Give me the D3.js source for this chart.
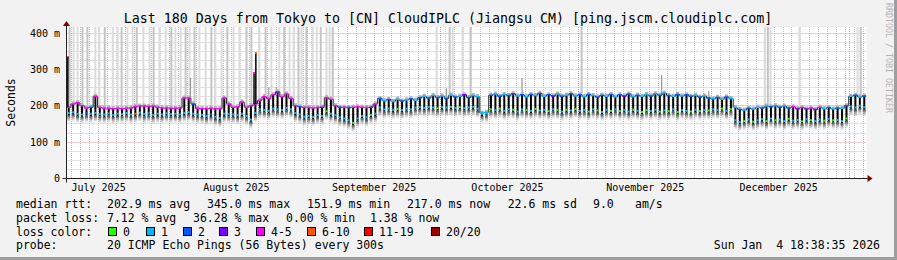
<!DOCTYPE html>
<html>
<head>
<meta charset="utf-8">
<title>Smokeping - Tokyo to CloudIPLC Jiangsu CM</title>
<style>
  body { margin: 0; background: #f2f2f2; }
  svg text { font-family: "DejaVu Sans Mono", monospace; white-space: pre; }
</style>
</head>
<body>
<div id="chart"></div>
<script src="https://d3js.org/d3.v7.min.js"></script>
<script>
// ---- data ----
var title = "Last 180 Days from Tokyo to [CN] CloudIPLC (Jiangsu CM) [ping.jscm.cloudiplc.com]";
var yTicks = [0, 100, 200, 300, 400];
var yTickLabels = ["0", "100 m", "200 m", "300 m", "400 m"];
var months = ["2025-07-01", "2025-08-01", "2025-09-01", "2025-10-01", "2025-11-01", "2025-12-01", "2026-01-01"];
var monthLabels = ["July 2025", "August 2025", "September 2025", "October 2025", "November 2025", "December 2025"];

// daily median level (ms), one value per day starting Jul 8 18:38
var base = [
  196,205,208,200,194,196,226,195,193,193,
  192,193,192,193,194,198,199,199,198,199,
  196,194,194,193,193,194,221,221,205,193,
  192,192,193,192,192,221,205,196,197,210,
  196,200,205,215,225,220,230,238,225,232,
  220,200,197,195,195,194,195,196,222,218,
  200,196,196,195,196,197,196,195,196,205,
  220,214,217,212,218,213,216,219,215,222,
  226,221,228,223,227,220,229,224,226,230,
  223,228,225,180,182,229,232,226,231,228,
  233,227,230,225,231,228,234,226,230,227,
  232,226,229,233,227,230,225,231,228,224,
  229,226,231,224,230,227,232,225,229,226,
  231,227,233,229,235,228,226,231,227,230,
  226,229,224,227,221,219,223,218,224,220,
  195,190,188,193,191,196,194,199,197,200,
  196,199,194,197,192,195,191,194,190,196,
  192,195,191,194,193,200,226,229,224,227
];
// daily low of the median (ms)
var dip = [
  180,182,178,176,179,178,180,177,176,179,
  175,178,177,180,176,178,181,177,179,175,
  178,176,179,177,178,176,180,182,178,176,
  175,172,176,170,166,178,177,176,174,178,
  172,162,180,190,188,186,192,190,188,194,
  190,180,176,170,172,169,174,172,185,178,
  174,168,165,160,153,165,172,168,175,178,
  195,190,192,189,191,188,192,190,195,196,
  194,197,195,193,196,195,197,194,196,193,
  195,197,192,178,179,190,188,192,186,190,
  189,184,190,188,186,191,187,189,185,190,
  188,184,189,187,191,186,188,184,190,187,
  183,189,186,190,185,188,184,189,186,183,
  188,185,189,184,187,185,190,183,188,186,
  184,189,185,188,187,190,188,192,186,190,
  160,155,158,162,156,160,163,158,165,160,
  162,158,164,159,161,157,163,160,158,162,
  159,164,160,161,158,165,198,195,200,196
];
// loss class per day (index into lossColors) for the level and for the low
var baseLoss = [
  "4444424444","4444444444","4444444424","4444444444","4444444344",
  "4424444344","4242444434",
  "2121121212","1212121213","2111121212",
  "2121212123","1212121212","2121232121","1212121212","2121212121",
  "1212112121","2124343434","1212121212"
].join("");
var dipLoss = [
  "1111211111","1111151111","1111111111","1121111111","1111111111",
  "1111111101","1111011101",
  "1111011111","1110111101","1111101011",
  "0110101101","0101011010","1101011010","0110101011","0101011010",
  "1101011010","1101101011","0101101111"
].join("");

// single median spikes: day offset, value (ms), loss class
var spikeDay = [0.3, 42.2, 42.6];
var spikeMs = [333, 290, 345];
var spikeLoss = [7, 4, 5];

// thin grey smoke peaks: day offset, value (ms)
var smokeDay = [27.9, 45.5, 47.2, 85.5, 102.5, 133.9, 144.5];
var smokeMs = [276, 250, 252, 248, 276, 284, 240];

// smoke that runs off the top of the graph: day offset, darkness
var stripeDay = [0.7, 1.6, 2.5, 3.6, 4.7, 6.5, 7.4, 8.6, 10.4, 11.5, 12.4, 13.7, 14.9, 15.8,
  17.3, 18.7, 19.6, 20.9, 22.3, 23.6, 24.5, 25.7, 26.8, 27.7, 28.8, 29.9, 31.3, 32.6, 33.5,
  34.9, 36.2, 37.6, 38.9, 40.5, 41.6, 43.4, 44.8, 46.1, 47.9, 49.0, 50.2, 51.1, 52.2, 52.9,
  54.0, 55.4, 56.3, 57.2, 58.5, 59.2, 59.9, 83.3, 86.2, 86.9, 89.1, 90.9, 115.9, 157.1,
  157.8, 158.4, 164.9, 178.0, 178.7];
var stripeDark = [1, 0, 0, 1, 1, 0, 0, 1, 0, 0, 1, 0, 0, 1,
  0, 0, 1, 0, 0, 1, 0, 0, 1, 0, 1, 0, 0, 1, 0,
  0, 1, 0, 0, 1, 1, 0, 1, 0, 0, 1, 0, 0, 1, 0,
  1, 0, 0, 1, 0, 0, 1, 0, 1, 0, 0, 1, 1, 0,
  1, 0, 0, 0, 1];

var lossLabels = ["0", "1", "2", "3", "4-5", "6-10", "11-19", "20/20"];
var lossColors = ["#26ff00", "#00b8ff", "#0059ff", "#7e00ff", "#ff00ff", "#ff5500", "#ff0000", "#a10000"];

var statRows = [
  ["median rtt:", "202.9 ms avg", "345.0 ms max", "151.9 ms min", "217.0 ms now", "22.6 ms sd", "9.0", "am/s"],
  ["packet loss:", "7.12 % avg", "36.28 % max", "0.00 % min", "1.38 % now"]
];
var probeText = ["probe:", "20 ICMP Echo Pings (56 Bytes) every 300s"];
var stamp = "Sun Jan  4 18:38:35 2026";

// ---- layout ----
var W = 897, H = 260;
var pLeft = 66.5, pRight = 866.5, pTop = 27, pBottom = 178.5;
var DAY = 86400000;
var t0 = Date.UTC(2025, 6, 8, 18, 38, 35);
var t1 = Date.UTC(2026, 0, 4, 18, 38, 35);

var x = d3.scaleUtc().domain([t0, t1]).range([pLeft, pRight]);
var y = d3.scaleLinear().domain([0, 416.5]).range([pBottom, pTop]);
var dx = function(d) { return x(t0 + d * DAY); };
var crisp = function(v) { return Math.round(v - 0.5) + 0.5; };

var svg = d3.select('#chart').append('svg')
  .attr('width', W).attr('height', H);

svg.append('rect').attr('width', W).attr('height', H).attr('fill', '#f2f2f2');
svg.append('rect').attr('x', W - 3).attr('y', 0).attr('width', 3).attr('height', H).attr('fill', '#9e9e9e');
svg.append('rect').attr('x', 0).attr('y', H - 3).attr('width', W).attr('height', 3).attr('fill', '#9e9e9e');

svg.append('rect')
  .attr('x', pLeft).attr('y', pTop)
  .attr('width', pRight - pLeft).attr('height', pBottom - pTop)
  .attr('fill', '#fff');

var defs = svg.append('defs');
var grad = defs.append('linearGradient').attr('id', 'tail')
  .attr('x1', 0).attr('y1', 0).attr('x2', 0).attr('y2', 1);
grad.append('stop').attr('offset', 0).attr('stop-color', '#333').attr('stop-opacity', 0.95);
grad.append('stop').attr('offset', 1).attr('stop-color', '#bbb').attr('stop-opacity', 0);
defs.append('clipPath').attr('id', 'plot').append('rect')
  .attr('x', pLeft).attr('y', pTop).attr('width', pRight - pLeft).attr('height', pBottom - pTop);

// ---- grid ----
var grid = svg.append('g');
var minorY = d3.range(25, 416, 25).filter(function(v) { return v % 100 !== 0; });
grid.selectAll('line.hmin').data(minorY).join('line')
  .attr('x1', pLeft).attr('x2', pRight)
  .attr('y1', function(v) { return crisp(y(v)); }).attr('y2', function(v) { return crisp(y(v)); })
  .attr('stroke', '#c4c4c4').attr('stroke-dasharray', '1,1');

var minorX = [];
for (var t = Math.ceil((t0 - DAY) / (2 * DAY)) * 2 * DAY + DAY; t <= t1; t += 2 * DAY) {
  if (t >= t0) minorX.push(t);
}
grid.selectAll('line.vmin').data(minorX).join('line')
  .attr('x1', function(t) { return crisp(x(t)); }).attr('x2', function(t) { return crisp(x(t)); })
  .attr('y1', pTop).attr('y2', pBottom)
  .attr('stroke', '#c4c4c4').attr('stroke-dasharray', '1,1');

grid.selectAll('line.hmaj').data(yTicks.slice(1)).join('line')
  .attr('x1', pLeft).attr('x2', pRight)
  .attr('y1', function(v) { return crisp(y(v)); }).attr('y2', function(v) { return crisp(y(v)); })
  .attr('stroke', '#f29494').attr('stroke-dasharray', '1,1');

var monthTimes = months.map(function(s) { return Date.parse(s + "T00:00:00Z"); });
grid.selectAll('line.vmaj').data(monthTimes.filter(function(t) { return t > t0; })).join('line')
  .attr('x1', function(t) { return crisp(x(t)); }).attr('x2', function(t) { return crisp(x(t)); })
  .attr('y1', pTop).attr('y2', pBottom)
  .attr('stroke', '#f29494').attr('stroke-dasharray', '1,1');

// ---- smoke and median ----
var plot = svg.append('g').attr('clip-path', 'url(#plot)');
var days = d3.range(base.length);

plot.selectAll('rect.stripe').data(stripeDay).join('rect')
  .attr('x', function(d) { return dx(d) - 1; })
  .attr('width', 2)
  .attr('y', pTop)
  .attr('height', function(d) { return y(base[Math.floor(d)]) - pTop; })
  .attr('fill', function(d, i) { return stripeDark[i] ? '#c4c4c4' : '#dcdcdc'; });

plot.selectAll('line.smoke').data(smokeDay).join('line')
  .attr('x1', function(d) { return dx(d); }).attr('x2', function(d) { return dx(d); })
  .attr('y1', function(d) { return y(base[Math.floor(d)]); })
  .attr('y2', function(d, i) { return y(smokeMs[i]); })
  .attr('stroke', '#999').attr('stroke-width', 1.2);

plot.selectAll('rect.tail').data(days).join('rect')
  .attr('x', function(d) { return dx(d + 0.5) - 1.5; })
  .attr('width', 3)
  .attr('y', function(d) { return y(dip[d] - 6); })
  .attr('height', function(d) { return y(dip[d] - 28) - y(dip[d] - 6); })
  .attr('fill', 'url(#tail)');

plot.selectAll('rect.upper').data(days).join('rect')
  .attr('x', function(d) { return dx(d + 0.5) - 1.5; })
  .attr('width', 3)
  .attr('y', function(d) { return y(base[d] + 7); })
  .attr('height', function(d) { return y(base[d]) - y(base[d] + 7); })
  .attr('fill', '#b0b0b0');

plot.selectAll('line.drop').data(days).join('line')
  .attr('x1', function(d) { return dx(d + 0.5); }).attr('x2', function(d) { return dx(d + 0.5); })
  .attr('y1', function(d) { return y(base[d]); })
  .attr('y2', function(d) { return y(dip[d] - 6); })
  .attr('stroke', '#000').attr('stroke-width', 2);

plot.selectAll('line.step').data(days.slice(1)).join('line')
  .attr('x1', function(d) { return dx(d); }).attr('x2', function(d) { return dx(d); })
  .attr('y1', function(d) { return y(base[d - 1]); })
  .attr('y2', function(d) { return y(base[d]); })
  .attr('stroke', '#222').attr('stroke-width', 1);

plot.selectAll('line.level').data(days).join('line')
  .attr('x1', function(d) { return dx(d); }).attr('x2', function(d) { return dx(d + 1); })
  .attr('y1', function(d) { return y(base[d]); }).attr('y2', function(d) { return y(base[d]); })
  .attr('stroke', function(d) { return lossColors[+baseLoss[d]]; })
  .attr('stroke-width', 1.5);

plot.selectAll('rect.low').data(days).join('rect')
  .attr('x', function(d) { return dx(d + 0.5) - 1; })
  .attr('y', function(d) { return y(dip[d]) - 1; })
  .attr('width', 2).attr('height', 2)
  .attr('fill', function(d) { return lossColors[+dipLoss[d]]; });

plot.selectAll('line.spike').data(spikeDay).join('line')
  .attr('x1', function(d) { return dx(d); }).attr('x2', function(d) { return dx(d); })
  .attr('y1', function(d) { return y(base[Math.floor(d)]); })
  .attr('y2', function(d, i) { return y(spikeMs[i]); })
  .attr('stroke', '#111').attr('stroke-width', 1.6);
plot.selectAll('rect.spiketop').data(spikeDay).join('rect')
  .attr('x', function(d) { return dx(d) - 1; })
  .attr('y', function(d, i) { return y(spikeMs[i]) - 1; })
  .attr('width', 2).attr('height', 2)
  .attr('fill', function(d, i) { return lossColors[spikeLoss[i]]; });

// ---- axes ----
svg.append('line').attr('x1', pLeft - 4).attr('x2', pRight + 1).attr('y1', pBottom).attr('y2', pBottom)
  .attr('stroke', '#212121');
svg.append('line').attr('x1', pLeft).attr('x2', pLeft).attr('y1', pTop - 3).attr('y2', pBottom + 4)
  .attr('stroke', '#212121');
svg.append('path').attr('d', 'M' + (pLeft - 3.5) + ',' + (pTop - 1) + 'L' + pLeft + ',' + (pTop - 6) + 'L' + (pLeft + 3.5) + ',' + (pTop - 1) + 'Z')
  .attr('fill', '#800000');
svg.append('path').attr('d', 'M' + (pRight + 1) + ',' + (pBottom - 3.5) + 'L' + (pRight + 6) + ',' + pBottom + 'L' + (pRight + 1) + ',' + (pBottom + 3.5) + 'Z')
  .attr('fill', '#800000');

svg.selectAll('text.ylab').data(yTicks).join('text')
  .attr('x', 60).attr('y', function(v) { return y(v) + 3.6; })
  .attr('text-anchor', 'end').attr('font-size', '10px').attr('fill', '#000')
  .text(function(v, i) { return yTickLabels[i]; });

svg.selectAll('text.xlab').data(monthLabels).join('text')
  .attr('x', function(s, i) { return x(monthTimes[i] + 15 * DAY); })
  .attr('y', 191)
  .attr('text-anchor', 'middle').attr('font-size', '10px').attr('fill', '#000')
  .text(function(s) { return s; });

svg.append('text')
  .attr('transform', 'translate(15,102.5) rotate(-90)')
  .attr('text-anchor', 'middle').attr('font-size', '11.5px')
  .text('Seconds');

svg.append('text')
  .attr('x', 448).attr('y', 23)
  .attr('text-anchor', 'middle').attr('font-size', '13.3px')
  .text(title);

svg.append('text')
  .attr('transform', 'translate(886,58) rotate(90)')
  .attr('text-anchor', 'middle').attr('font-size', '8.3px').attr('fill', '#b4b4b4')
  .text('RRDTOOL / TOBI OETIKER');

// ---- legend ----
var legendFont = '11.5px';
var rowY = [208, 221.5, 235.5, 249.3];
var statX = [[16, 107, 207, 307, 407, 507.7, 593, 635], [16, 107, 193, 286, 370]];
statRows.forEach(function(row, r) {
  svg.selectAll('text.stat' + r).data(row).join('text')
    .attr('x', function(s, i) { return statX[r][i]; })
    .attr('y', rowY[r]).attr('font-size', legendFont)
    .text(function(s) { return s; });
});

svg.append('text').attr('x', 16).attr('y', rowY[2]).attr('font-size', legendFont).text('loss color:');
var boxX = [108, 146, 183, 219, 256, 307, 364, 431];
var lg = svg.selectAll('g.loss').data(lossLabels).join('g')
  .attr('transform', function(s, i) { return 'translate(' + boxX[i] + ',0)'; });
lg.append('rect').attr('x', 0.5).attr('y', 227.5).attr('width', 8).attr('height', 8)
  .attr('fill', function(s, i) { return lossColors[i]; })
  .attr('stroke', '#000');
lg.append('text').attr('x', 15).attr('y', rowY[2]).attr('font-size', legendFont)
  .text(function(s) { return s; });

svg.append('text').attr('x', 16).attr('y', rowY[3]).attr('font-size', legendFont).text(probeText[0]);
svg.append('text').attr('x', 107).attr('y', rowY[3]).attr('font-size', legendFont).text(probeText[1]);
svg.append('text').attr('x', 880).attr('y', rowY[3]).attr('font-size', legendFont)
  .attr('text-anchor', 'end').text(stamp);
</script>
</body>
</html>
